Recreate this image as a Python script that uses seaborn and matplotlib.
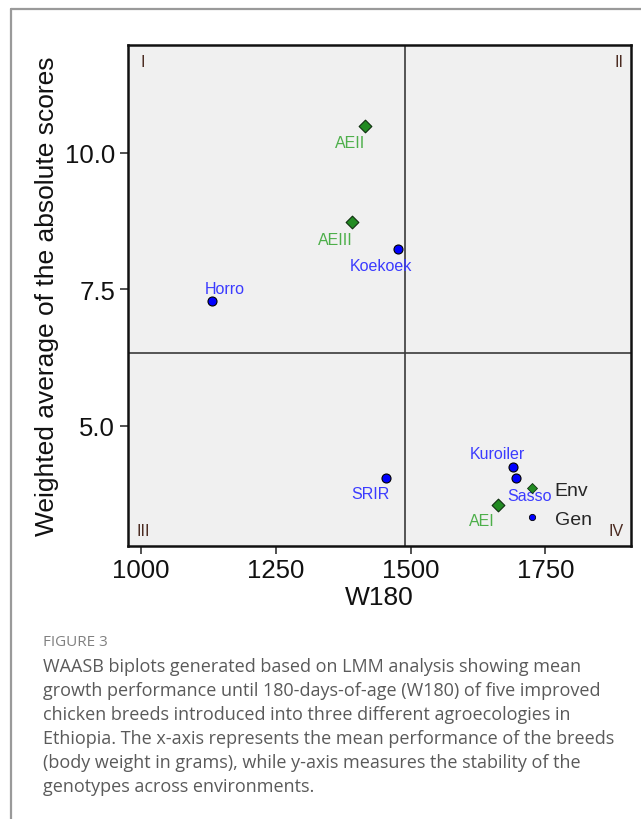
import numpy as np
import pandas as pd
import matplotlib
matplotlib.use("Agg")
import matplotlib.pyplot as plt
from matplotlib.lines import Line2D
import seaborn as sns

# ---- data ----
gen_names = ["Horro", "Koekoek", "SRIR", "Kuroiler", "Sasso"]
gen_w180 = [1132, 1476, 1454, 1690, 1695]
gen_waasb = [7.29, 8.23, 4.04, 4.25, 4.04]

env_names = ["AEI", "AEII", "AEIII"]
env_w180 = [1662, 1416, 1391]
env_waasb = [3.55, 10.49, 8.73]

x_ticks = [1000, 1250, 1500, 1750]
y_ticks = [5.0, 7.5, 10.0]
quadrant_labels = ["I", "II", "III", "IV"]

caption_title = "FIGURE 3"
caption_lines = [
    "WAASB biplots generated based on LMM analysis showing mean",
    "growth performance until 180-days-of-age (W180) of five improved",
    "chicken breeds introduced into three different agroecologies in",
    "Ethiopia. The x-axis represents the mean performance of the breeds",
    "(body weight in grams), while y-axis measures the stability of the",
    "genotypes across environments.",
]

gen_df = pd.DataFrame({"name": gen_names, "W180": gen_w180, "WAASB": gen_waasb})
env_df = pd.DataFrame({"name": env_names, "W180": env_w180, "WAASB": env_waasb})
all_x = np.array(gen_w180 + env_w180, dtype=float)
all_y = np.array(gen_waasb + env_waasb, dtype=float)
x_mean = all_x.mean()
y_mean = all_y.mean()

# ---- style ----
sns.set_style("white")
plt.rcParams["font.family"] = ["Liberation Sans", "DejaVu Sans"]

W, H = 641, 820
fig = plt.figure(figsize=(W / 100, H / 100), dpi=100)
ax = fig.add_axes([127.7 / W, 1 - 546.7 / H, (630.7 - 127.7) / W, (546.7 - 46) / H])
ax.set_facecolor("#F0F0F0")

ax.axvline(x_mean, color="#3a3a3a", lw=1.2, zorder=1)
ax.axhline(y_mean, color="#3a3a3a", lw=1.2, zorder=1)

sns.scatterplot(data=gen_df, x="W180", y="WAASB", ax=ax, color="#0000FF",
                edgecolor="black", linewidth=0.8, s=42, marker="o", legend=False, zorder=3)
sns.scatterplot(data=env_df, x="W180", y="WAASB", ax=ax, color="#228B22",
                edgecolor="#103010", linewidth=0.8, s=42, marker="D", legend=False, zorder=3)

# label offsets (pixels, right/down)
gen_off = {"Horro": (12.7, -11.7), "Koekoek": (-16.4, 16.7), "SRIR": (-15.2, 15.7),
           "Kuroiler": (-15.5, -12.7), "Sasso": (13.7, 18.0)}
env_off = {"AEI": (-16.3, 16.0), "AEII": (-15.3, 16.6), "AEIII": (-16.4, 17.3)}

for _, r in gen_df.iterrows():
    dx, dy = gen_off[r["name"]]
    ax.annotate(r["name"], (r["W180"], r["WAASB"]), xytext=(dx * 0.72, -dy * 0.72),
                textcoords="offset points", ha="center", va="center",
                fontsize=11.5, color="#3B3BFF", zorder=4)
for _, r in env_df.iterrows():
    dx, dy = env_off[r["name"]]
    ax.annotate(r["name"], (r["W180"], r["WAASB"]), xytext=(dx * 0.72, -dy * 0.72),
                textcoords="offset points", ha="center", va="center",
                fontsize=11.5, color="#4DAF4A", zorder=4)

# quadrant labels
qcol = "#4a2a20"
ax.text(0.026, 0.967, quadrant_labels[0], transform=ax.transAxes, ha="left", va="center", fontsize=11.5, color=qcol)
ax.text(0.985, 0.967, quadrant_labels[1], transform=ax.transAxes, ha="right", va="center", fontsize=11.5, color=qcol)
ax.text(0.018, 0.03, quadrant_labels[2], transform=ax.transAxes, ha="left", va="center", fontsize=11.5, color=qcol)
ax.text(0.985, 0.03, quadrant_labels[3], transform=ax.transAxes, ha="right", va="center", fontsize=11.5, color=qcol)

ax.set_xlim(975.3, 1908)
ax.set_ylim(2.80, 11.97)
ax.set_xticks(x_ticks)
ax.set_xticklabels([str(v) for v in x_ticks])
ax.set_yticks(y_ticks)
ax.set_yticklabels([f"{v:.1f}" for v in y_ticks])
ax.tick_params(axis="both", labelsize=18.5, length=6, width=1.2, color="#333333",
               bottom=True, left=True, pad=3, labelcolor="#111111")
ax.set_xlabel("W180", fontsize=19, color="#111111", labelpad=2)
ax.set_ylabel("Weighted average of the absolute scores", fontsize=19, color="#111111", labelpad=4)
for s in ax.spines.values():
    s.set_color("#111111")
    s.set_linewidth(1.8)

# legend
handles = [
    Line2D([], [], marker="D", ls="none", color="#228B22", markeredgecolor="#103010",
           markersize=5, markeredgewidth=0.6, label="Env"),
    Line2D([], [], marker="o", ls="none", color="#0000FF", markeredgecolor="black",
           markersize=4.5, markeredgewidth=0.6, label="Gen"),
]
leg = ax.legend(handles=handles, loc="center left", bbox_to_anchor=(0.768, 0.082),
                frameon=False, fontsize=14, handlelength=1.0, handletextpad=0.7,
                labelspacing=0.55, borderaxespad=0)

# page frame lines
fig.add_artist(Line2D([11 / W, 1.0], [1 - 10 / H, 1 - 10 / H], transform=fig.transFigure,
                      color="#9a9a9a", lw=1.6))
fig.add_artist(Line2D([11 / W, 11 / W], [1 - 10 / H, 0.0], transform=fig.transFigure,
                      color="#9a9a9a", lw=1.6))

# caption
cap_font = ["Open Sans", "DejaVu Sans"]
fig.text(43 / W, 1 - 643 / H, caption_title, fontsize=11, color="#808080",
         family=cap_font, va="center", ha="left")
for i, line in enumerate(caption_lines):
    fig.text(43 / W, 1 - (667 + i * 24) / H, line, fontsize=13.0, color="#5a5a5a",
             family=cap_font, va="center", ha="left")

fig.savefig("out.png", dpi=100)
